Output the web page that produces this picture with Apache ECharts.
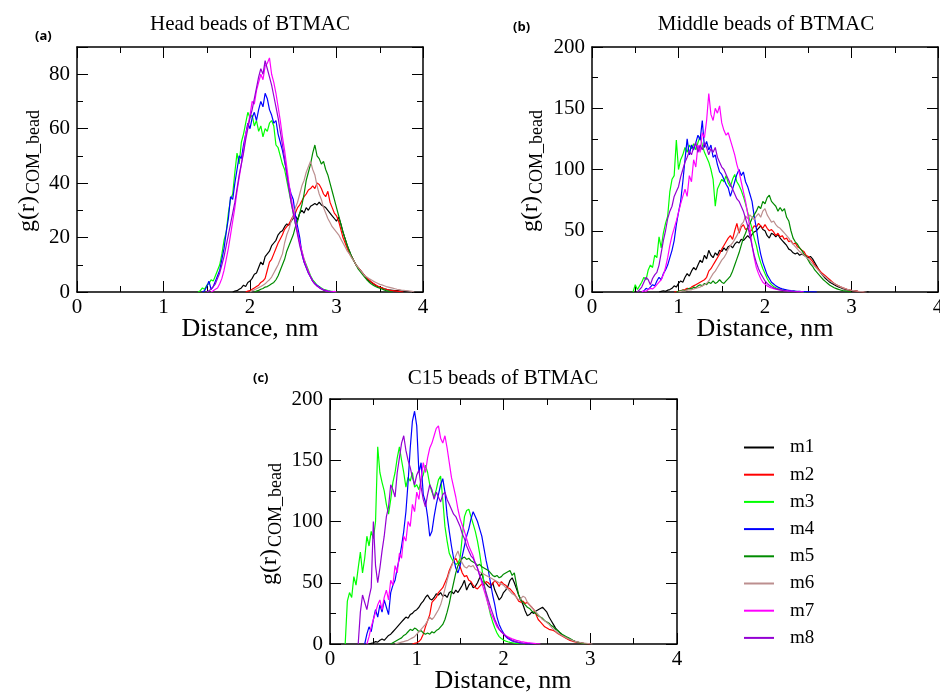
<!DOCTYPE html>
<html>
<head>
<meta charset="utf-8">
<script src="https://cdn.jsdelivr.net/npm/echarts@6/dist/echarts.min.js"></script>
<style>
html,body{margin:0;padding:0;background:#fff;}
#chart{width:940px;height:693px;}
</style>
</head>
<body>
<div id="chart"></div>
<script>
// Radial distribution g(r) of BTMAC beads around micelle COM, models m1..m8
// Each curve: first r value (nm) + samples every STEP nm.
const STEP = 0.025;
const seriesNames = ['m1', 'm2', 'm3', 'm4', 'm5', 'm6', 'm7', 'm8'];
const seriesColors = ['#000000', '#ff0000', '#00ff00', '#0000ff', '#008b00', '#bc8f8f', '#ff00ff', '#9400d3'];
const xTicks = [0, 1, 2, 3, 4];

// (a) Head beads
const headStart = [1.80, 1.95, 1.40, 1.45, 2.05, 2.00, 1.55, 1.50];
const headM1 = [0,0.3,0.5,1,1.5,2.5,2,3.5,4,5,6.5,7,9,11,10,13,14,15,17,18,19,21,22,22.5,24,25,24.5,26,27,28,26.5,29,30,29,31,30,31.5,32,32.5,32,33,32,31.5,31,30,29,28,27,26,27.5,25,22,19.5,17,15,13,11.5,10,9,8,7,6,5,4.2,3.6,3,2.5,2,1.8,1.5,1.2,1,0.8,0.7,0.6,0.5,0.5,0.4,0.3,0.3,0.2,0.2,0.1,0.1,0];
const headM2 = [0,0.3,0.5,1,1.5,2,2.5,3.5,4,5,8,11,12,14,16,18,19.5,21,23,24,25,26.5,28,29,31,32,33.5,35,36,37.5,38,39,38,40,39.5,38,36,35,37,33,31,29,28,26,23,20,18,16,14,13,11.5,10,9,8,7,6,5.2,4.5,3.8,3.2,2.7,2.2,1.8,1.5,1.2,1,0.8,0.6,0.5,0.4,0.3,0.2,0.1,0];
const headM3 = [0,0.5,1.5,1,2.5,3,4.5,4,6,8,10,14,19,22,29,34,36,44,51,47,55,58,62,66,64,65,61,63,59,61,57,60,59,62,63,61,54,53,50,47,45,41,37,33,29,25,22,18,15,12,10,8,6,4.5,3.5,2.5,2,1.5,1,0.8,0.5,0.3,0.2,0.1,0];
const headM4 = [0,0.5,2,4,1,2,4,6,8,12,16,22,27,35,34,40,45,50,49,54,58,62,60,64,66,63,67,70,68,73,71,67,65,62,63,58,55,52,48,44,39,36,34,28,24,20,14,11,9,7,5.5,4,3,2.5,1.8,1.2,0.8,0.5,0.3,0.2,0.1,0];
const headM5 = [0,0.3,0.6,1,1.3,1.8,2,2.5,3,3.5,4.5,6,8,10,12,15,17,19,21,24,26,29,32,36,41,44,47,51,54,50,49,47,48,45,43,40,37,34,31,28,25,22,19.5,17,15,13,11.5,10,8.5,7.5,6.5,5.5,4.5,3.7,3,2.5,2,1.7,1.4,1.1,0.8,0.5,0.3,0.1,0];
const headM6 = [0,0.5,0.8,1.2,1.6,2,2.5,3,3.8,4.5,5.5,7,8.5,10,12,14,18,21,23,26,28,31,33,36,39,41,44,46,48,45,43,39,36,34,31,29,27,25.5,24,23,22,21,19.5,18,16.5,15,14,12.5,11.5,10,9,8,7,6,5.5,5,4.5,4,3.6,3.2,2.8,2.6,2.3,2,1.8,1.6,1.4,1.2,1,0.9,0.7,0.6,0.5,0.4,0.3,0.2,0];
const headM7 = [0,0.5,1,1.5,3,5,8,12,16,21,26,31,37,42,47,52,58,61,65,70,69,74,77,80,78,83,84,86,80,77,73,68,63,57,52,46,40,35,30,26,22,18,15,12,9.5,7.5,5.5,4,3,2.2,1.6,1.2,0.8,0.5,0.3,0.2,0.1,0.2,0];
const headM8 = [0,0.5,1,2,3,5,7,10,13,17,21,25,29,33,38,43,47,51,56,60,64,67,71,75,79,82,80,85,82,79,76,72,68,64,59,54,49,43,38,33,29,25,21,17,14,11,9,7,5.5,4,3,2.2,1.6,1.1,0.7,0.4,0.2,0.1,0];

// (b) Middle beads
const midStart = [0.775, 0.95, 0.475, 0.575, 0.975, 1.00, 0.575, 0.525];
const midM1 = [0,0.5,1,0.5,1.5,2,3,5,4,7,9,8,12,15,13,17,20,18,22,26,24,30,27,34,30,28,32,30,34,33,36,34,37,38,36,39,41,40,43,42,44,46,44,47,49,50,52,54,51,50,46,44,48,47,45,47,44,42,40,38,35,34,32,31,32,30,31,30,29,28,29,27,24,21,18,15,13,11,9.5,8,7,6,5,4.2,3.5,2.8,2.2,1.8,1.4,1.1,0.9,0.7,0.5,0.4,0.3,0.2,0.1,0];
const midM2 = [0,0.3,0.5,1,1.5,2,3,2.5,4,5,6,7,8,9,10,12,17,19,22,25,28,31,35,38,41,44,46,43,50,56,48,53,55,51,52,49,51,54,53,56,54,52,55,52,50,51,49,46,48,45,46,43,44,41,42,39,40,37,36,34,33,30,29,27,25,22,20,18,16,14.5,13,11.5,10,8.5,7,6,5,4.2,3.5,2.8,2.2,1.8,1.4,1.1,0.8,0.5,0.3,0.1,0];
const midM3 = [0,6,2,5,8,12,10,18,22,20,30,28,45,36,48,56,62,82,92,95,124,100,108,112,118,114,120,117,121,116,122,127,120,114,110,106,100,92,70,84,88,92,90,95,89,86,92,96,90,87,83,78,72,65,58,52,44,38,30,24,19,15,11,8,6,4.5,3.5,2.8,2.2,1.8,1.5,1.2,1,0.8,0.6,0.5,0.4,0.3,0.2,0.1,0];
const midM4 = [0,1,3,2,4,6,5,9,12,10,15,18,22,28,34,42,55,65,74,90,108,125,112,120,116,122,128,124,140,118,123,116,120,110,112,104,98,96,92,88,85,78,84,90,96,100,95,98,90,86,80,74,62,52,40,31,24,19,14,11,8,6.5,5,4,3.2,2.6,2.1,1.7,1.4,1.1,0.9,0.7,0.6,0.5,0.4,0.3,0.3,0.2,0.2,0.1,0.1,0];
const midM5 = [0,0.5,1,1.5,1,2,3,2.5,4,3.5,5,6,5,7,6,8,7,9,7,8,10,8,7,9,11,13,17,22,27,32,38,44,48,53,56,60,63,66,70,68,74,72,77,79,74,72,70,66,69,66,68,61,58,50,44,41,39,36,34,31,29,26,23,21,18,16,14,12,10,8.5,7,5.5,4.5,3.5,2.8,2.1,1.6,1.2,0.9,0.6,0.3,0];
const midM6 = [0,0.5,1,0.8,1.5,2,1.8,2.5,3,3.5,4,5,6,7,9,12,15,17,20,23,26,28,31,35,38,40,43,46,50,55,57,62,60,63,61,59,62,64,61,66,68,63,60,57,58,55,53,52,50,48,46,44,41,39,37,35,33,31.5,30,28.5,27,25,23,21,19,17,15,13.5,12,10.5,9,8,7,6,5,4.2,3.4,2.8,2.2,1.8,1.4,1.1,0.8,0.6,0.4,0.3,0.1,0];
const midM7 = [0,1,0.5,2,3,2.5,4,6,8,10,14,20,28,38,46,52,58,65,72,78,84,78,95,90,108,102,120,114,130,126,140,162,145,140,150,146,152,138,132,128,130,124,118,112,104,98,90,82,74,64,52,38,28,20,15,11,8,6.5,5,4,3.3,2.8,2.3,2,1.7,1.4,1.2,1,0.8,0.7,0.5,0.4,0.3,0.2,0.1,0];
const midM8 = [0,2,4,8,12,10,6,11,14,16,22,32,42,50,60,66,70,78,82,86,94,100,106,110,115,112,118,122,114,120,116,122,118,112,117,114,118,110,106,102,100,96,92,88,84,80,76,74,70,66,60,54,46,38,30,24,19,15,12,9,7,5.5,4.3,3.4,2.7,2.2,1.8,1.4,1.1,0.8,0.6,0.4,0.3,0.2,0.1,0];

// (c) C15 beads
const c15Start = [0.45, 0.95, 0.175, 0.40, 0.70, 0.75, 0.425, 0.325];
const c15M1 = [0,0.5,1,2,1.5,3,4,3,5,7,8,10,12,14,16,18,20,22,21,24,25,27,28,30,33,35,38,40,37,36,38,41,40,42,39,40,38,42,43,41,44,42,45,48,52,44,48,50,46,47,50,54,58,51,49,47,46,50,44,40,36,38,42,44,47,52,54,50,45,40,36,32,27,23,24,26,25,27,28,29,30,28,26,22,19,16,13,11,9,7.5,6,5,4,3.3,2.7,2.1,1.6,1.2,0.8,0.5,0.3,0.1,0];
const c15M2 = [0,0.5,1,2,4,8,14,19,24,34,36,38,42,44,46,50,54,60,64,68,70,66,63,58,55,56,52,51,48,46,45,47,49,48,51,50,48,49,52,50,47,51,49,48,46,45,43,41,38,35,34,35,33,34,32,30,28,24,20,18,16,14,13,12,11.5,11,10,8.5,7.5,6.5,5.5,4.5,3.5,2.8,2.2,1.8,1.4,1.1,0.8,0.5,0.3,0.1,0];
const c15M3 = [0,35,42,38,55,48,62,75,58,70,88,80,92,86,100,161,140,132,125,114,106,118,132,140,152,161,150,140,128,136,133,140,128,130,126,134,138,146,140,130,124,120,126,134,137,118,96,84,74,70,67,65,66,70,88,104,109,110,104,98,92,84,74,62,50,40,32,24,18,13,9,6,4.5,3.2,2.4,1.8,1.3,1,0.7,0.5,0.3,0.2,0.1,0];
const c15M4 = [0,8,14,10,20,28,22,32,26,36,30,24,42,48,52,62,70,80,92,108,132,160,182,190,178,140,148,122,116,104,88,92,104,114,122,130,135,124,105,92,80,70,62,58,64,72,80,88,94,102,108,104,100,94,88,78,68,60,50,40,32,22,16,12,9,6,4.5,3.5,2.5,2,1.5,1.1,0.8,0.6,0.4,0.3,0.2,0.1,0];
const c15M5 = [0,1,2,3,4,5,7,8,10,12,11,13,12,10,11,9,8,9,8,10,9,11,12,14,16,20,26,33,42,50,58,64,67,70,71,69,70,68,67,66,64,65,63,62,61,60,58,56,55,56,54,55,57,58,59,60,56,58,48,40,36,34,32,30,29,27,26,25,23,22,21,19,18,17,15,14,12,11,9.5,8,7,6,5,4,3,2.2,1.6,1.1,0.7,0.4,0.2,0];
const c15M6 = [0,0.5,1,1.5,2,2.5,3,4,5,6,8,10,12,14,16,19,22,20,22,25,28,32,38,45,52,58,63,68,72,76,70,66,63,62,64,63,64,61,60,59,58,57,56,55,54,53,52,51,50,49,48,46,45,43,41,40,38,36,37,39,38,34,32,30,28,26,24,22,20,19,17.5,16,14,12,10.5,9,8,7,6,5,4.2,3.5,2.8,2.2,1.8,1.4,1,0.8,0.6,0.4,0.2,0];
const c15M7 = [0,6,14,20,26,32,36,28,38,44,36,52,48,64,58,74,70,88,84,100,96,114,108,124,118,134,148,140,152,160,164,170,176,178,168,164,170,160,148,136,128,120,110,102,97,92,86,80,76,72,66,62,56,50,44,38,32,26,22,18,14,12,10,8.5,7,6,5,4.2,3.6,3,2.5,2,1.7,1.4,1.1,0.9,0.7,0.5,0.3,0.2,0];
const c15M8 = [0,26,40,34,28,38,46,100,64,50,62,76,88,104,112,130,126,120,140,152,164,170,158,150,144,136,130,138,142,128,118,112,122,130,126,118,124,120,116,122,124,118,114,110,106,104,100,96,90,86,80,76,72,70,66,62,56,52,48,42,36,30,25,20,16,12,10,8,6.5,5,4,3,2.3,1.7,1.2,0.9,0.6,0.4,0.2,0];

const panels = [
  { title: 'Head beads of BTMAC', tag: '(a)', yMax: 90, yInterval: 20, starts: headStart,
    curves: [headM1, headM2, headM3, headM4, headM5, headM6, headM7, headM8] },
  { title: 'Middle beads of BTMAC', tag: '(b)', yMax: 200, yInterval: 50, starts: midStart,
    curves: [midM1, midM2, midM3, midM4, midM5, midM6, midM7, midM8] },
  { title: 'C15 beads of BTMAC', tag: '(c)', yMax: 200, yInterval: 50, starts: c15Start,
    curves: [c15M1, c15M2, c15M3, c15M4, c15M5, c15M6, c15M7, c15M8] }
];

const SERIF = '"Liberation Serif", "DejaVu Serif", serif';
// Fixed plot rectangles; the right panel's last tick label is allowed to run off the canvas edge
const gridBox = { outerBoundsMode: 'none', containLabel: false,
  outerBounds: { left: -80, top: -80, right: -80, bottom: -80 } };
const grids = [
  Object.assign({ left: 77, top: 47, width: 346, height: 245 }, gridBox),
  Object.assign({ left: 592, top: 47, width: 346, height: 245 }, gridBox),
  Object.assign({ left: 330, top: 399, width: 347, height: 245 }, gridBox)
];

function toPoints(start, values) {
  return values.map((v, i) => [+(start + i * STEP).toFixed(3), v]);
}

// Framed axes with inward ticks on all four sides (bottom/left carry labels)
function makeAxis(gridIndex, isX, primary, min, max, interval) {
  return {
    type: 'value',
    gridIndex: gridIndex,
    position: isX ? (primary ? 'bottom' : 'top') : (primary ? 'left' : 'right'),
    min: min, max: max, interval: interval,
    axisLine: { show: true, onZero: false, lineStyle: { color: '#000', width: 1.5 } },
    axisTick: { show: true, inside: true, length: 11, lineStyle: { color: '#000', width: 1 } },
    minorTick: { show: true, splitNumber: 2, length: 6, lineStyle: { color: '#000', width: 1 } },
    splitLine: { show: false },
    axisLabel: {
      show: primary, fontFamily: SERIF, fontSize: 21, color: '#000',
      margin: isX ? 5 : 7,
      // the frame top (e.g. 90) is not a labelled tick
      formatter: (v) => (Math.abs(v / interval - Math.round(v / interval)) < 1e-6 ? String(v) : '')
    }
  };
}

const xAxes = [], yAxes = [], series = [];
panels.forEach((p, gi) => {
  xAxes.push(makeAxis(gi, true, true, xTicks[0], xTicks[xTicks.length - 1], 1));
  xAxes.push(makeAxis(gi, true, false, xTicks[0], xTicks[xTicks.length - 1], 1));
  yAxes.push(makeAxis(gi, false, true, 0, p.yMax, p.yInterval));
  yAxes.push(makeAxis(gi, false, false, 0, p.yMax, p.yInterval));
  p.curves.forEach((vals, k) => {
    series.push({
      type: 'line',
      name: seriesNames[k],
      xAxisIndex: gi * 2,
      yAxisIndex: gi * 2,
      data: toPoints(p.starts[k], vals),
      symbol: 'none',
      color: seriesColors[k],
      lineStyle: { color: seriesColors[k], width: 1.2 },
      emphasis: { disabled: true },
      animation: false
    });
  });
});

// Titles, panel tags and axis titles
const titlePos = [[250, 24], [766, 24], [503, 378]];
const tagPos = [[35, 36], [513, 27], [253, 378]];
const xNamePos = [[250, 329], [765, 329], [503, 681]];
const yNamePos = [[28, 232, 34, 194], [531, 232, 537, 194], [270, 585, 276, 547]];
function txt(x, y, text, font, align, rot) {
  return {
    type: 'text', x: x, y: y, rotation: rot || 0,
    style: { text: text, font: font, fill: '#000',
      textAlign: align, textVerticalAlign: 'middle', align: align, verticalAlign: 'middle' }
  };
}
const graphics = [];
panels.forEach((p, gi) => {
  graphics.push(txt(titlePos[gi][0], titlePos[gi][1], p.title, '21px ' + SERIF, 'center'));
  graphics.push(txt(tagPos[gi][0], tagPos[gi][1], p.tag, 'bold 13px "Open Sans", "Liberation Sans", sans-serif', 'left'));
  graphics.push(txt(xNamePos[gi][0], xNamePos[gi][1], 'Distance, nm', '26px ' + SERIF, 'center'));
  const yp = yNamePos[gi];
  graphics.push(txt(yp[0], yp[1], 'g(r)', '24px ' + SERIF, 'left', Math.PI / 2));
  graphics.push(txt(yp[2], yp[3], 'COM_bead', '18px ' + SERIF, 'left', Math.PI / 2));
});

const chart = echarts.init(document.getElementById('chart'), null, { renderer: 'canvas' });
chart.setOption({
  backgroundColor: '#ffffff',
  animation: false,
  grid: grids,
  xAxis: xAxes,
  yAxis: yAxes,
  series: series,
  graphic: graphics,
  legend: {
    orient: 'vertical',
    left: 744,
    top: 438,
    padding: 0,
    icon: 'rect',
    itemWidth: 30,
    itemHeight: 2,
    itemGap: 8.2,
    selectedMode: false,
    data: seriesNames,
    textStyle: { fontFamily: SERIF, fontSize: 19, color: '#000', lineHeight: 14, padding: [0, 0, 0, 11] }
  }
});
</script>
</body>
</html>
